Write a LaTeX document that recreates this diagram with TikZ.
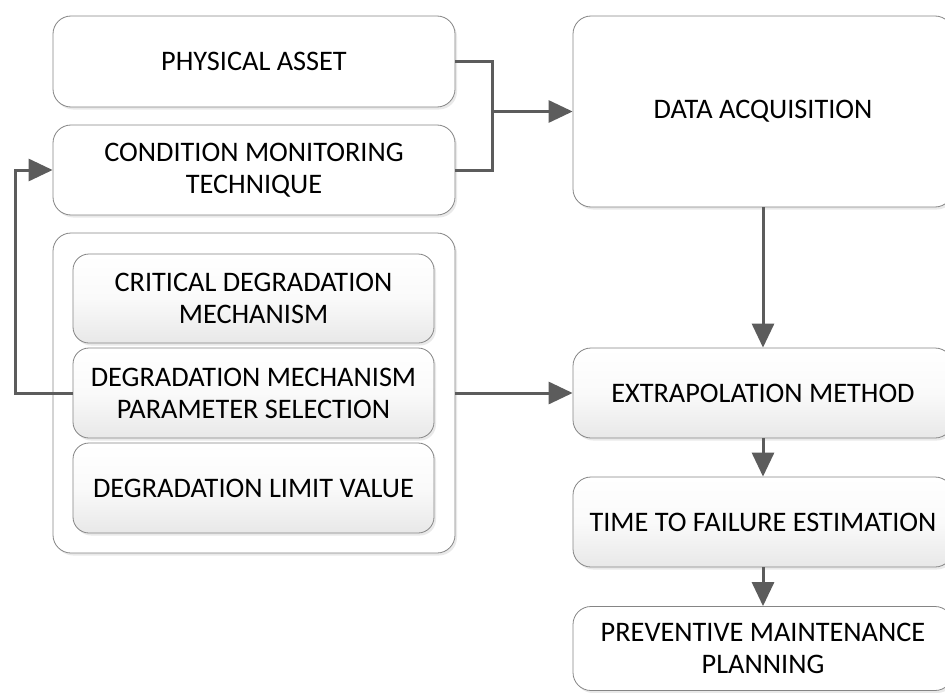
\documentclass[tikz,border=0pt]{standalone}
\usepackage{fontspec}
\setmainfont{Carlito}
\usetikzlibrary{arrows.meta,shadows,calc}

\tikzset{
  box/.style={draw=black!48, line width=0.8pt, rounded corners=18pt, fill=white,
    align=center, font=\fontsize{28.3}{32}\selectfont, inner sep=0pt,
    drop shadow={shadow xshift=2pt, shadow yshift=-2.5pt, fill=black!14, opacity=0.6}},
  shadedbox/.style={box, top color=white, bottom color=black!9, middle color=black!2},
  link/.style={draw=black!64, line width=3pt},
  flow/.style={link, -{Triangle[length=24pt,width=22pt]}}
}

\begin{document}
\begin{tikzpicture}[x=1pt,y=-1pt]
\useasboundingbox (0,0) rectangle (945,693);
\clip (0,0) rectangle (945,693);

% left column
\node[box, minimum width=402pt, minimum height=91pt] (pa) at (254,61.5) {PHYSICAL ASSET};
\node[box, minimum width=402pt, minimum height=90pt] (cmt) at (254,170) {CONDITION MONITORING\\TECHNIQUE};
\node[box, minimum width=402pt, minimum height=320pt] (cont) at (254,393) {};
\node[shadedbox, rounded corners=16pt, minimum width=361pt, minimum height=89pt] (cdm) at (253.5,298.5) {CRITICAL DEGRADATION\\MECHANISM};
\node[shadedbox, rounded corners=16pt, minimum width=361pt, minimum height=90pt] (dmps) at (253.5,393) {DEGRADATION MECHANISM\\PARAMETER SELECTION};
\node[shadedbox, rounded corners=16pt, minimum width=361pt, minimum height=90pt] (dlv) at (253.5,488) {DEGRADATION LIMIT VALUE};

% right column
\node[box, minimum width=380pt, minimum height=191pt] (da) at (763,111.5) {DATA ACQUISITION};
\node[shadedbox, minimum width=380pt, minimum height=90pt] (ext) at (763,393) {EXTRAPOLATION METHOD};
\node[shadedbox, minimum width=380pt, minimum height=90pt] (ttf) at (763,522) {TIME TO FAILURE ESTIMATION};
\node[box, minimum width=380pt, minimum height=84pt] (pmp) at (763,648.5) {PREVENTIVE MAINTENANCE\\PLANNING};

% connectors
\coordinate (join) at (492,111.5);
\coordinate (loop) at (15,393);
\draw[link] (pa.east) -| (join) |- (cmt.east);
\draw[flow] (join) -- (da.west);
\draw[flow] (loop -| dmps.west) -- (loop) |- (cmt.west);
\draw[flow] (dmps.east -| cont.east) -- (ext.west);
\draw[flow] (da.south) -- (ext.north);
\draw[flow] (ext.south) -- (ttf.north);
\draw[flow] (ttf.south) -- (pmp.north);
\end{tikzpicture}
\end{document}
